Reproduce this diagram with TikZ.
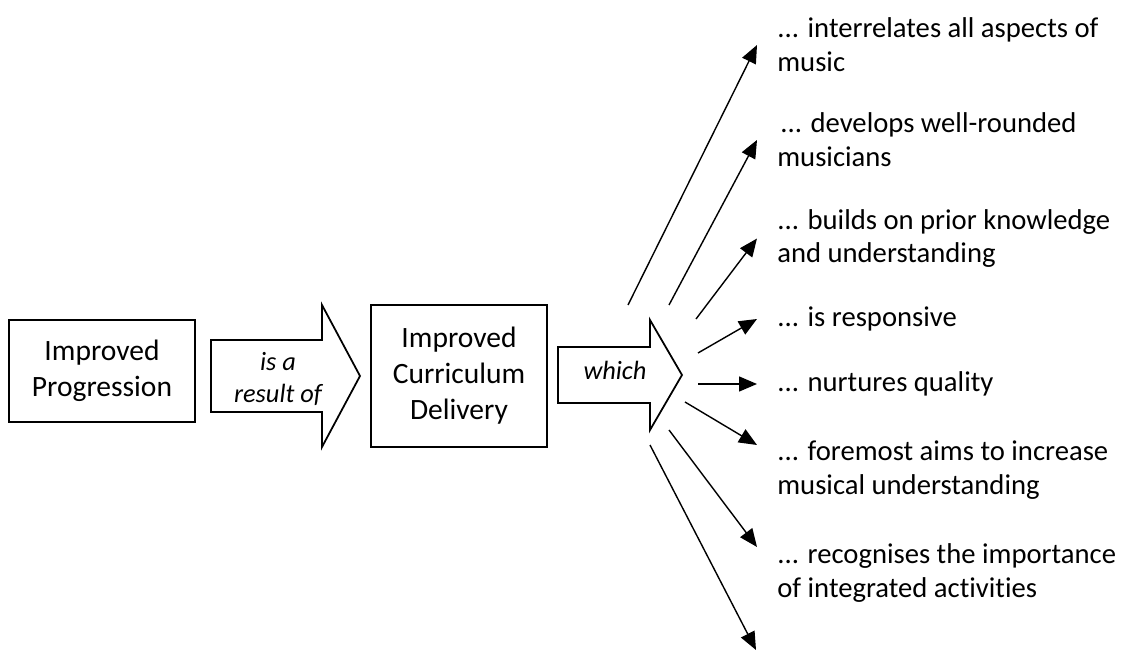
\documentclass[tikz,border=0pt]{standalone}
\usepackage{fontspec}
\setmainfont{Carlito}[Ligatures=NoCommon]
\usetikzlibrary{arrows.meta}
\tikzstyle{box}=[draw, line width=1pt, align=center, inner sep=0pt, font=\fontsize{16.8}{20.5}\selectfont]
\tikzstyle{blockarrow}=[draw, line width=1pt, line join=miter]
\tikzstyle{verb}=[align=center, inner sep=0pt, font=\fontsize{15}{18.2}\selectfont\itshape]
\tikzstyle{aim}=[align=left, anchor=west, inner xsep=0.4cm, inner ysep=0pt, font=\fontsize{16.3}{19.3}\selectfont]
\tikzstyle{fan}=[line width=0.8pt, -{Triangle[length=0.36cm,width=0.3cm]}]

\begin{document}
\begin{tikzpicture}[scale=1]
\useasboundingbox (0,0) rectangle (22.66,13.02);

% the two boxes
\node[box, minimum width=3.72cm, minimum height=2.04cm] (prog) at (2.04, 5.60) {Improved\\Progression};
\node[box, minimum width=3.52cm, minimum height=2.84cm] (deliv) at (9.18, 5.50) {Improved\\Curriculum\\Delivery};

% block arrows
\draw[blockarrow] (4.22,6.22) -- (6.44,6.22) -- (6.44,6.92) -- (7.20,5.50) -- (6.44,4.08) -- (6.44,4.78) -- (4.22,4.78) -- cycle;
\node[verb] (res) at (5.56, 5.44) {is a\\result of};

\draw[blockarrow] (11.16,6.08) -- (13.00,6.08) -- (13.00,6.62) -- (13.64,5.52) -- (13.00,4.42) -- (13.00,4.96) -- (11.16,4.96) -- cycle;
\node[verb] (which) at (12.30, 5.62) {which};

% what the delivery does
\node[aim] (t1) at (15.14, 12.12) {... interrelates all aspects of\\music};
\node[aim] (t2) at (15.14, 10.22) {\hspace{0.06cm}... develops well-rounded\\musicians};
\node[aim] (t3) at (15.14, 8.25) {... builds on prior knowledge\\and understanding};
\node[aim] (t4) at (15.14, 6.64) {... is responsive};
\node[aim] (t5) at (15.14, 5.34) {... nurtures quality};
\node[aim] (t6) at (15.14, 3.62) {... foremost aims to increase\\musical understanding};
\node[aim] (t7) at (15.14, 1.56) {... recognises the importance\\of integrated activities};

\coordinate (from1) at (12.56, 6.92);
\coordinate (from2) at (13.38, 6.92);
\coordinate (from3) at (13.92, 6.64);
\coordinate (from4) at (13.96, 5.96);
\coordinate (from5) at (13.96, 5.34);
\coordinate (from6) at (13.70, 4.98);
\coordinate (from7) at (13.38, 4.42);
\coordinate (from8) at (13.00, 4.12);
\coordinate (end8) at (15.12, 0.02);

\draw[fan] (from1) -- (t1.west);
\draw[fan] (from2) -- (t2.west);
\draw[fan] (from3) -- (t3.west);
\draw[fan] (from4) -- (t4.west);
\draw[fan] (from5) -- (t5.west);
\draw[fan] (from6) -- ([yshift=0.5cm]t6.west);
\draw[fan] (from7) -- ([yshift=0.52cm]t7.west);
\draw[fan] (from8) -- (end8);

\end{tikzpicture}
\end{document}
